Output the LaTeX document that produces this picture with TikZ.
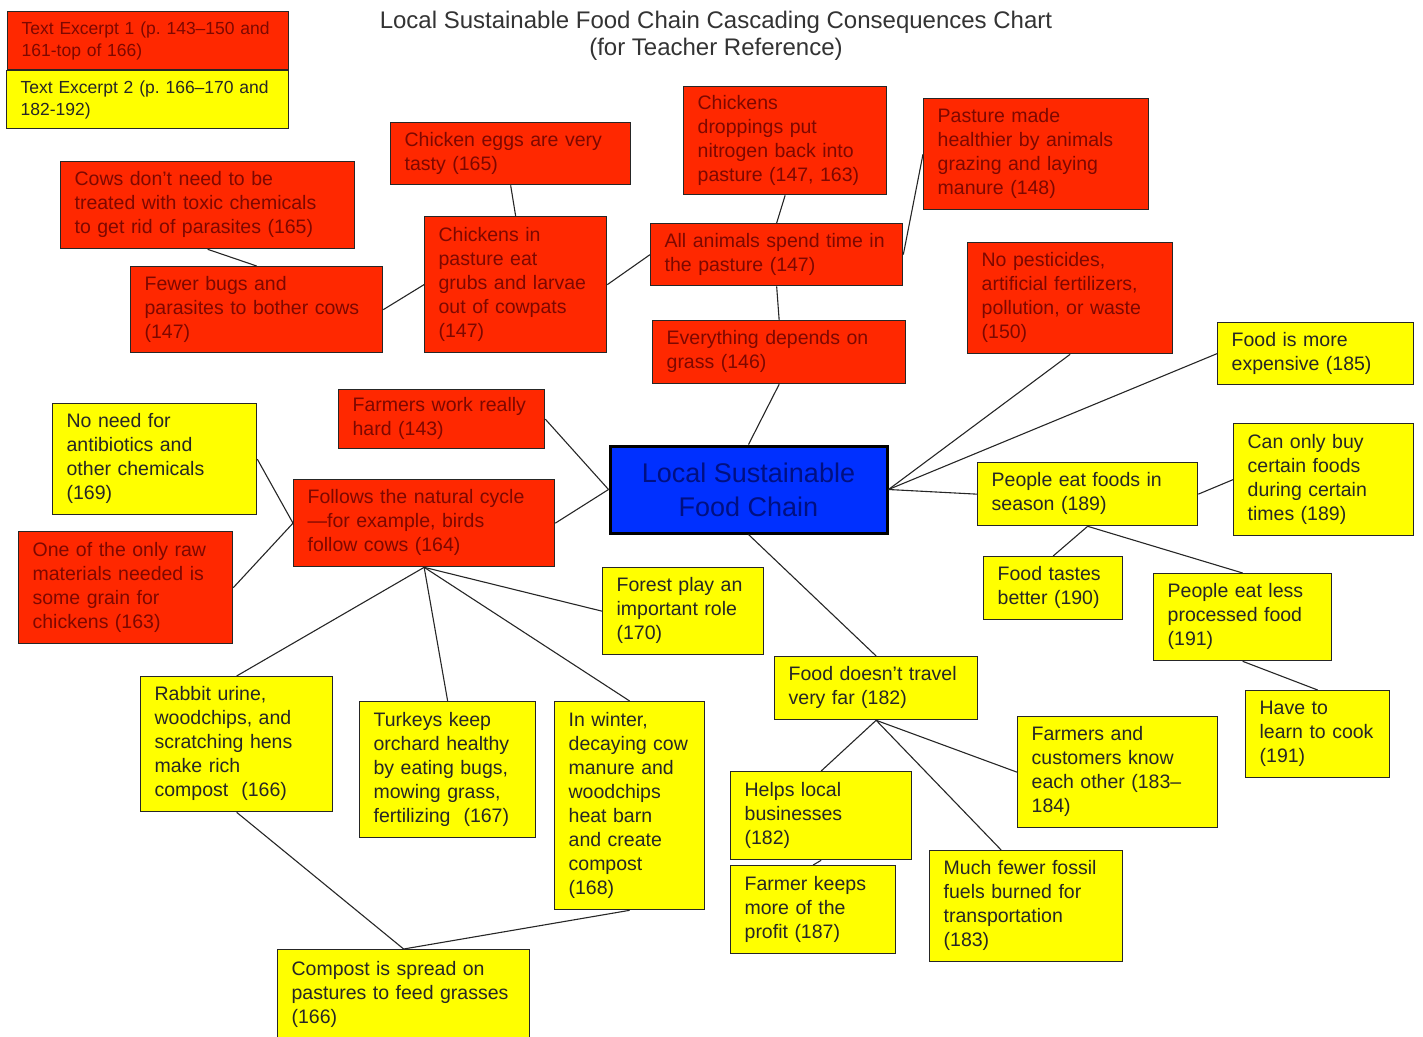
\documentclass[tikz,border=0pt]{standalone}
\usepackage{fontspec}
\setmainfont{Liberation Sans}
\frenchspacing

\definecolor{boxred}{RGB}{255,40,0}
\definecolor{boxyellow}{RGB}{255,255,0}
\definecolor{hubblue}{RGB}{0,48,255}
\definecolor{txtred}{RGB}{125,8,0}
\definecolor{hubtxt}{RGB}{0,16,130}

% box from top left (x1,y1) to bottom right (x2,y2)
\newcommand{\cbox}[7]{%
  \pgfmathsetmacro\bw{#5-#3}%
  \pgfmathsetmacro\bh{#6-#4}%
  \pgfmathsetmacro\tw{#5-#3-28}%
  \node[#1, minimum width=\bw pt, minimum height=\bh pt, text width=\tw pt] (#2) at (#3,#4)
    {\begin{tabular}{@{}l@{}}#7\end{tabular}};%
}

\begin{document}
\begin{tikzpicture}[x=1pt, y=-1pt,
    card/.style={draw=black!85, line width=1.3pt, anchor=north west, inner xsep=14pt, inner ysep=3pt,
      align=left, font=\fontsize{19.5}{24}\selectfont},
    redcard/.style={card, fill=boxred, text=txtred},
    yellowcard/.style={card, fill=boxyellow, text=black!85},
    link/.style={line width=1.1pt, black!85}]
        \useasboundingbox (0,0) rectangle (1423,1036);

        \node[font=\fontsize{24}{27}\selectfont, text=black!80, align=center] (title) at (716,36)
          {Local Sustainable Food Chain Cascading Consequences Chart\\(for Teacher Reference)};

        % legend
        \cbox{redcard, font=\fontsize{17.5}{22}\selectfont}{keyone}{7}{11}{288}{69}{Text Excerpt 1 (p. 143--150 and\\161-top of 166)}
        \cbox{yellowcard, font=\fontsize{17.5}{22}\selectfont}{keytwo}{6}{70}{288}{128}{Text Excerpt 2 (p. 166--170 and\\182-192)}

        % excerpt 1
        \cbox{redcard}{cows}{60}{161}{354}{248}{Cows don't need to be\\treated with toxic chemicals\\to get rid of parasites (165)}
        \cbox{redcard}{eggs}{390}{122}{630}{184}{Chicken eggs are very\\tasty (165)}
        \cbox{redcard}{chickdrop}{683}{86}{886}{194}{Chickens\\droppings put\\nitrogen back into\\pasture (147, 163)}
        \cbox{redcard}{pasture}{923}{98}{1148}{209}{Pasture made\\healthier by animals\\grazing and laying\\manure (148)}
        \cbox{redcard}{fewerbugs}{130}{266}{382}{352}{Fewer bugs and\\parasites to bother cows\\(147)}
        \cbox{redcard}{chickens}{424}{216}{606}{352}{Chickens in\\pasture eat\\grubs and larvae\\out of cowpats\\(147)}
        \cbox{redcard}{animals}{650}{223}{902}{285}{All animals spend time in\\the pasture (147)}
        \cbox{redcard}{pesticides}{967}{242}{1172}{353}{No pesticides,\\artificial fertilizers,\\pollution, or waste\\(150)}
        \cbox{redcard}{grass}{652}{320}{905}{383}{Everything depends on\\grass (146)}
        \cbox{redcard}{farmers}{338}{389}{544}{448}{Farmers work really\\hard (143)}
        \cbox{redcard}{follows}{293}{479}{554}{566}{Follows the natural cycle\\---for example, birds\\follow cows (164)}
        \cbox{redcard}{rawmat}{18}{531}{232}{643}{One of the only raw\\materials needed is\\some grain for\\chickens (163)}

        \node[draw=black, line width=3pt, fill=hubblue, text=hubtxt, minimum width=277pt, minimum height=87pt,
          align=center, font=\fontsize{27}{34}\selectfont] (hub) at (748.5,489.5) {Local Sustainable\\Food Chain};

        % excerpt 2
        \cbox{yellowcard}{noneed}{52}{403}{256}{514}{No need for\\antibiotics and\\other chemicals\\(169)}
        \cbox{yellowcard}{expensive}{1217}{322}{1413}{384}{Food is more\\expensive (185)}
        \cbox{yellowcard}{season}{977}{462}{1197}{525}{People eat foods in\\season (189)}
        \cbox{yellowcard}{canonly}{1233}{423}{1413}{535}{Can only buy\\certain foods\\during certain\\times (189)}
        \cbox{yellowcard}{tastes}{983}{556}{1122}{619}{Food tastes\\better (190)}
        \cbox{yellowcard}{lessproc}{1153}{573}{1331}{660}{People eat less\\processed food\\(191)}
        \cbox{yellowcard}{forest}{602}{567}{763}{654}{Forest play an\\important role\\(170)}
        \cbox{yellowcard}{travel}{774}{656}{977}{719}{Food doesn't travel\\very far (182)}
        \cbox{yellowcard}{cook}{1245}{690}{1389}{777}{Have to\\learn to cook\\(191)}
        \cbox{yellowcard}{rabbit}{140}{676}{332}{811}{Rabbit urine,\\woodchips, and\\scratching hens\\make rich\\compost\ \ (166)}
        \cbox{yellowcard}{turkeys}{359}{701}{535}{837}{Turkeys keep\\orchard healthy\\by eating bugs,\\mowing grass,\\fertilizing\ \ (167)}
        \cbox{yellowcard}{winter}{554}{701}{704}{909}{In winter,\\decaying cow\\manure and\\woodchips\\heat barn\\and create\\compost\\(168)}
        \cbox{yellowcard}{helps}{730}{771}{911}{859}{Helps local\\businesses\\(182)}
        \cbox{yellowcard}{knows}{1017}{716}{1217}{827}{Farmers and\\customers know\\each other (183--\\184)}
        \cbox{yellowcard}{keeps}{730}{865}{895}{953}{Farmer keeps\\more of the\\profit (187)}
        \cbox{yellowcard}{fossil}{929}{850}{1122}{961}{Much fewer fossil\\fuels burned for\\transportation\\(183)}
        \cbox{yellowcard}{compost}{277}{949}{529}{1040}{Compost is spread on\\pastures to feed grasses\\(166)}

        \coordinate (fossiltop) at ([xshift=-25pt]fossil.north);

        \foreach \a/\b in {cows.south/fewerbugs.north, fewerbugs.east/chickens.west, eggs.south/chickens.north,
            chickens.east/animals.west, chickdrop.south/animals.north, animals.east/pasture.west,
            animals.south/grass.north, grass.south/hub.north, farmers.east/hub.west, follows.east/hub.west,
            hub.east/pesticides.south, hub.east/expensive.west, hub.east/season.west,
            season.east/canonly.west, season.south/tastes.north, season.south/lessproc.north,
            lessproc.south/cook.north, hub.south/travel.north,
            noneed.east/follows.west, rawmat.east/follows.west,
            follows.south/rabbit.north, follows.south/turkeys.north, follows.south/winter.north, follows.south/forest.west,
            rabbit.south/compost.north, winter.south/compost.north,
            travel.south/helps.north, travel.south/knows.west, travel.south/fossiltop,
            helps.south/keeps.north}{
          \draw[link] (\a) -- (\b);
        }
\end{tikzpicture}
\end{document}
